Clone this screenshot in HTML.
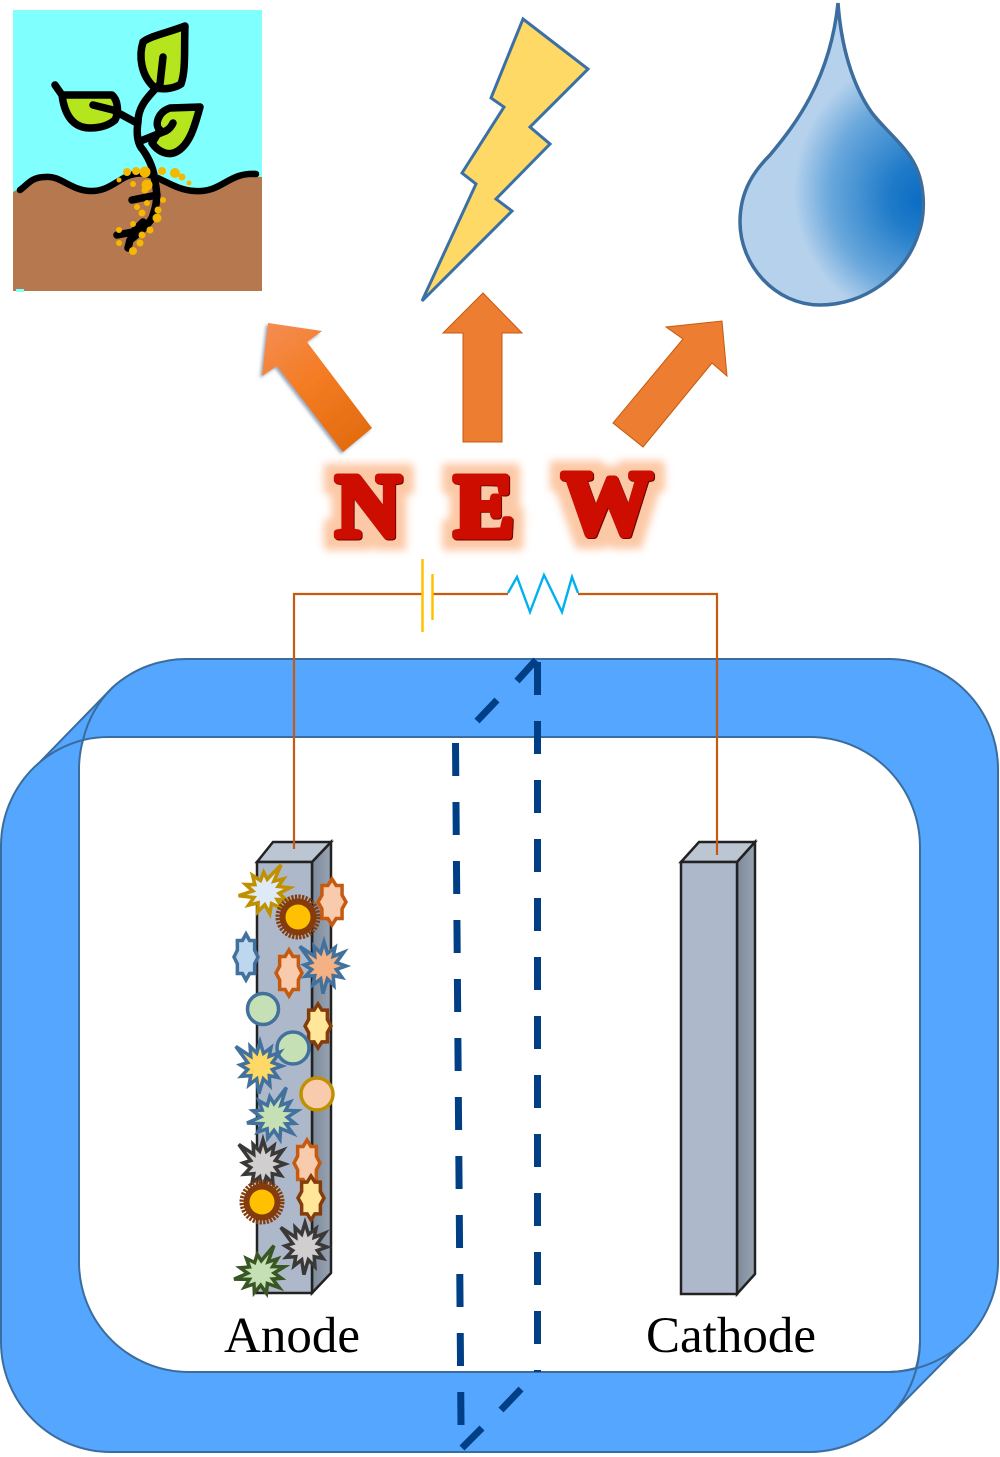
<!DOCTYPE html>
<html>
<head>
<meta charset="utf-8">
<style>
html,body{margin:0;padding:0;background:#fff;width:1000px;height:1457px;overflow:hidden}
svg{display:block}
</style>
</head>
<body>
<svg width="1000" height="1457" viewBox="0 0 1000 1457" xmlns="http://www.w3.org/2000/svg">
<defs>
<polygon id="s8" vector-effect="non-scaling-stroke" points="0,-1 .3,-.72 .72,-.72 .72,-.3 1,0 .72,.3 .72,.72 .3,.72 0,1 -.3,.72 -.72,.72 -.72,.3 -1,0 -.72,-.3 -.72,-.72 -.3,-.72"/>
<polygon id="s12" vector-effect="non-scaling-stroke" points="0,-1.05 .16,-.55 .5,-.8 .42,-.42 .9,-.6 .56,-.15 1,0 .56,.15 .82,.5 .42,.42 .45,.85 .15,.56 -.05,1.2 -.15,.56 -.5,.82 -.42,.42 -.85,.45 -.56,.15 -.9,-.05 -.56,-.15 -1.1,-.85 -.42,-.42 -.45,-.85 -.15,-.56"/>
<g id="sun">
<circle r="20" fill="none" stroke="#843c0c" stroke-width="5" stroke-dasharray="2.2 1.3"/>
<circle r="18.5" fill="#843c0c"/>
<circle r="12.5" fill="#ffc000"/>
</g>
<radialGradient id="dropG" gradientUnits="userSpaceOnUse" cx="932" cy="190" r="142" fx="922" fy="200">
<stop offset="0" stop-color="#0a6cc4"/>
<stop offset=".25" stop-color="#1f7bc9"/>
<stop offset=".7" stop-color="#6aa8dc"/>
<stop offset=".97" stop-color="#b5d1ec"/>
</radialGradient>
<linearGradient id="arrG" gradientUnits="userSpaceOnUse" x1="268" y1="323" x2="358" y2="440">
<stop offset="0" stop-color="#f48d52"/>
<stop offset=".5" stop-color="#f47b22"/>
<stop offset="1" stop-color="#e36c0f"/>
</linearGradient>
<linearGradient id="sideG" x1="0" y1="0" x2="1" y2="0">
<stop offset="0" stop-color="#7d8a9a"/>
<stop offset="1" stop-color="#98a4b2"/>
</linearGradient>
<filter id="glow" x="-40%" y="-40%" width="180%" height="180%">
<feMorphology in="SourceAlpha" operator="dilate" radius="10" result="d"/>
<feGaussianBlur in="d" stdDeviation="4" result="b"/>
<feFlood flood-color="#fcc9a6" flood-opacity="1"/>
<feComposite in2="b" operator="in" result="g"/>
<feMerge><feMergeNode in="g"/><feMergeNode in="SourceGraphic"/></feMerge>
</filter>
<filter id="shadow" x="-20%" y="-20%" width="140%" height="140%">
<feDropShadow dx="-2" dy="2" stdDeviation="1.5" flood-color="#6c7f96" flood-opacity=".7"/>
</filter>
</defs>

<!-- plant image -->
<rect x="13" y="10" width="249" height="281" fill="#80ffff"/>
<path d="M13 192 C25 186 30 178 45 178 C60 176 70 192 90 193 C110 194 120 178 135 176 C155 172 170 192 195 193 C222 195 228 174 262 177 V291 H13 Z" fill="#b5784f"/>
<rect x="16" y="289" width="8" height="3" fill="#80ffff"/>
<g fill="none" stroke="#000" stroke-width="7.5" stroke-linecap="round" stroke-linejoin="round">
<path d="M20 190 C28 184 32 177 45 177 C60 175 70 190 90 191 C110 192 120 176 135 174 C155 170 170 190 195 191 C222 193 228 172 256 174" stroke-width="6.5"/>
<path d="M185 26 C170 32 150 36 143 42 C139 55 140 75 155 88 C165 90 175 88 181 84 C186 70 184 50 185 26 Z" fill="#b5e61d"/>
<path d="M55 85 L62 95 L112 95 C118 100 119 112 115 120 C108 126 100 128 90 128 C75 128 65 118 62 95" fill="#b5e61d"/>
<path d="M200 107 L170 108 C158 112 154 125 160 130 L152 143 C158 152 168 156 176 152 C190 145 195 125 200 107Z" fill="#b5e61d"/>
<path d="M163 57 L160 84 C150 95 138 105 138 122 C136 135 138 145 143 150 C150 160 154 170 155 182 C158 195 157 205 152 218 C146 228 136 235 130 240 L128 248"/>
<path d="M93 105 L113 110 L135 122"/>
<path d="M143 140 L163 132 C170 130 172 125 173 123"/>
<path d="M132 200 L157 195"/>
<path d="M117 235 L133 232 L143 222"/>
</g>
<g fill="#f5b800">
<circle cx="127" cy="172" r="4"/><circle cx="136" cy="171" r="4"/><circle cx="145" cy="172" r="5.5"/><circle cx="162" cy="171" r="4"/><circle cx="175" cy="173" r="5"/><circle cx="182" cy="177" r="3.5"/><circle cx="189" cy="183" r="2.5"/><circle cx="119" cy="180" r="2.5"/><circle cx="133" cy="184" r="3"/><circle cx="147" cy="185" r="5.5"/><circle cx="145" cy="190" r="3.5"/><circle cx="137" cy="207" r="3"/><circle cx="142" cy="213" r="3.5"/><circle cx="163" cy="200" r="3"/><circle cx="158" cy="210" r="3.5"/><circle cx="157" cy="218" r="4.5"/><circle cx="150" cy="230" r="3.5"/><circle cx="142" cy="235" r="3.5"/><circle cx="140" cy="243" r="3.5"/><circle cx="133" cy="251" r="4"/><circle cx="133" cy="224" r="3"/><circle cx="119" cy="230" r="3"/><circle cx="119" cy="243" r="3"/><circle cx="147" cy="203" r="3"/>
</g>

<!-- lightning -->
<polygon points="523,19 588,69 530,127 550,144 496,199 512,211 422,301 476,184 462,173 504,107 491,98" fill="#ffd966" stroke="#3a70a6" stroke-width="3" stroke-linejoin="miter"/>

<!-- drop -->
<path d="M838 3 C841 45 852 85 872 113 C885 130 905 145 915 165 C925 185 926 215 918 235 C905 275 865 305 820 305 C775 305 740 265 740 222 C740 190 755 170 770 155 C795 125 830 80 838 3Z" fill="url(#dropG)" stroke="#3b6d9e" stroke-width="3.5"/>

<!-- arrows -->
<polygon points="268,323 322,331 307,342 372,428 343,452 277,366 262,376" fill="url(#arrG)" filter="url(#shadow)"/>
<polygon points="483,293 522,333 502,333 502,442 463,442 463,333 443,333" fill="#ed7d31" stroke="#c55a11" stroke-width="1"/>
<polygon points="722,321 727,376 712,363 643,447 613,423 683,339 666,327" fill="#ed7d31" stroke="#c55a11" stroke-width="1"/>

<!-- NEW -->
<g font-family="'Liberation Serif',serif" font-weight="bold" font-size="90" stroke-linejoin="round" text-anchor="middle" filter="url(#glow)">
<g fill="#6e0000" stroke="#6e0000" stroke-width="7">
<text x="369" y="537" aria-hidden="true">N</text>
<text x="485" y="537" aria-hidden="true">E</text>
<text x="608" y="534" aria-hidden="true">W</text>
</g>
<g fill="#cc0a00" stroke="#cc0a00" stroke-width="7">
<text x="368" y="536">N</text>
<text x="484" y="536">E</text>
<text x="607" y="533">W</text>
</g>
</g>

<!-- frame -->
<path d="M189 659 H888 A110 110 0 0 1 998 769 V1262 A110 110 0 0 1 958 1347 L893 1413 A110 110 0 0 1 810 1452 H111 A110 110 0 0 1 1 1342 V847 A110 110 0 0 1 40 762 L113 687 A110 110 0 0 1 189 659Z" fill="#54a6ff" stroke="#3a6d9e" stroke-width="2"/>
<path d="M79 769 A110 110 0 0 1 83 740 A110 110 0 0 1 111 737 H810 A110 110 0 0 1 920 847 V1342 A110 110 0 0 1 916 1368 A110 110 0 0 1 888 1372 H189 A110 110 0 0 1 79 1262 Z" fill="#fff" stroke="#3a6d9e" stroke-width="2"/>
<path d="M40 762 A110 110 0 0 1 83 740 M113 687 A110 110 0 0 0 83 740 M920 1342 A110 110 0 0 1 893 1413 M888 1372 A110 110 0 0 0 958 1347" fill="none" stroke="#3a6d9e" stroke-width="2"/>

<!-- membrane -->
<g stroke="#003f86" stroke-width="7" fill="none">
<line x1="455.5" y1="743" x2="461" y2="1425" stroke-dasharray="33 26"/>
<line x1="537.5" y1="662" x2="537.5" y2="1372" stroke-dasharray="33 26"/>
<path d="M477 721 L497 700 M517 681 L536 660 M501 1410 L521 1389 M462 1448 L482 1428"/>
</g>

<!-- electrodes -->
<g stroke="#222" stroke-width="2.5" stroke-linejoin="miter">
<polygon points="312,862 331,842 331,1273 312,1293" fill="url(#sideG)"/>
<polygon points="257,862 273,842 331,842 312,862" fill="#bcc5d2"/>
<rect x="257" y="862" width="55" height="431" fill="#adb9ca"/>
<polygon points="737,862 755,842 755,1274 737,1294" fill="url(#sideG)"/>
<polygon points="681,862 699,842 755,842 737,862" fill="#bcc5d2"/>
<rect x="681" y="862" width="56" height="432" fill="#adb9ca"/>
</g>

<!-- circuit -->
<g fill="none" stroke="#c55a11" stroke-width="2.2">
<path d="M294 849 V594 H423 M432 594 H508 M578 594 H717 V855"/>
</g>
<path d="M508 593 L517 577 L530 612 L544 575 L562 612 L572 577 L578 593" fill="none" stroke="#00b0f0" stroke-width="2.4"/>
<path d="M422.5 559 V632 M432.5 574 V620" fill="none" stroke="#ffc000" stroke-width="2.5"/>

<!-- microbes -->
<g stroke-width="3.5" stroke-linejoin="miter">
<use href="#s12" transform="translate(266,892) rotate(80) scale(22,23)" fill="#deebf7" stroke="#bf9000"/>
<use href="#sun" transform="translate(298,917)"/>
<use href="#s8" transform="translate(332,902) scale(14,23)" fill="#f8cbad" stroke="#c55a11"/>
<use href="#s8" transform="translate(246,957) scale(12,23)" fill="#bdd7ee" stroke="#41719c"/>
<use href="#s8" transform="translate(289,973) scale(13,23)" fill="#f8cbad" stroke="#c55a11"/>
<use href="#s12" transform="translate(324,966) scale(22,23)" fill="#f4b183" stroke="#41719c"/>
<circle cx="263" cy="1009" r="15.5" fill="#c5e0b4" stroke="#41719c"/>
<use href="#s8" transform="translate(318,1026) scale(13,22)" fill="#ffe699" stroke="#843c0c"/>
<circle cx="293" cy="1048" r="16" fill="#c5e0b4" stroke="#41719c"/>
<use href="#s12" transform="translate(260,1066) scale(22,23)" fill="#ffd966" stroke="#41719c"/>
<circle cx="317" cy="1094" r="16" fill="#f8cbad" stroke="#bf9000"/>
<use href="#s12" transform="translate(274,1117) rotate(75) scale(23,23)" fill="#c5e0b4" stroke="#41719c"/>
<use href="#s12" transform="translate(263,1164) scale(22,23)" fill="#d0cece" stroke="#3b3838"/>
<use href="#s8" transform="translate(307,1163) scale(13,23)" fill="#f8cbad" stroke="#c55a11"/>
<use href="#sun" transform="translate(262,1202)"/>
<use href="#s8" transform="translate(311,1198) scale(13,22)" fill="#ffe699" stroke="#843c0c"/>
<use href="#s12" transform="translate(305,1247) scale(22,23)" fill="#d0cece" stroke="#3b3838"/>
<use href="#s12" transform="translate(261,1273) rotate(75) scale(21,23)" fill="#c5e0b4" stroke="#385723"/>
</g>

<!-- labels -->
<g font-family="'Liberation Serif',serif" font-size="51" fill="#000">
<text x="224" y="1352">Anode</text>
<text x="646" y="1352">Cathode</text>
</g>
</svg>
</body>
</html>
